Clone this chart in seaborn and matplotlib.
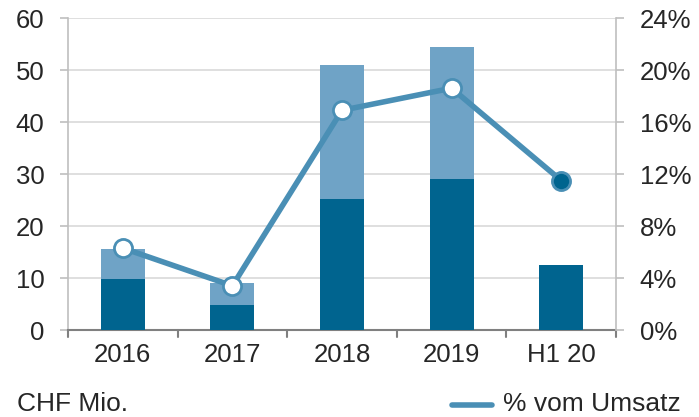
import numpy as np
import pandas as pd
import matplotlib
matplotlib.use("Agg")
import matplotlib.pyplot as plt
import seaborn as sns
from matplotlib.ticker import FuncFormatter

# data
categories = ["2016", "2017", "2018", "2019", "H1 20"]
base_values = [9.8, 4.8, 25.2, 29.0, 12.5]
top_values = [5.7, 4.2, 25.8, 25.5, 0.0]
pct_values = [6.3, 3.4, 16.9, 18.6, 11.5]

dark = "#00648F"
light = "#6FA3C6"
line_col = "#4A8FB5"
fs = 18.5

sns.set_style("white")
plt.rcParams["font.family"] = ["Liberation Sans", "DejaVu Sans"]

df = pd.DataFrame({"cat": categories, "base": base_values,
                   "total": np.array(base_values) + np.array(top_values)})

fig = plt.figure(figsize=(6.99, 4.17), dpi=100)
ax = fig.add_axes([68 / 699, 87 / 417, 548 / 699, 312 / 417])

sns.barplot(data=df, x="cat", y="total", color=light, width=0.4,
            saturation=1, linewidth=0, ax=ax, zorder=2)
sns.barplot(data=df, x="cat", y="base", color=dark, width=0.4,
            saturation=1, linewidth=0, ax=ax, zorder=3)

ax.set_xlim(-0.5, 4.5)
ax.set_ylim(0, 60)
ax.set_yticks(range(0, 61, 10))
ax.yaxis.grid(True, color="#d9d9d9", lw=1.2, zorder=0)
ax.set_axisbelow(True)
ax.set_xlabel("")
ax.set_ylabel("")
ax.tick_params(axis="y", labelsize=fs, length=6, color="#bfbfbf", width=1.2, pad=11)
ax.tick_params(axis="x", labelsize=fs, length=0, pad=9)
for s in ["top", "right"]:
    ax.spines[s].set_visible(False)
ax.spines["left"].set_color("#bfbfbf")
ax.spines["left"].set_linewidth(1.2)
ax.spines["bottom"].set_color("#808080")
ax.spines["bottom"].set_linewidth(1.5)
# separators under the x axis
for b in np.arange(-0.5, 4.6, 1.0):
    ax.plot([b, b], [0, -1.4], color="#808080", lw=1.5, clip_on=False)

ax2 = ax.twinx()
x = np.arange(len(categories))
ax2.plot(x, pct_values, color=line_col, lw=4, zorder=4, solid_capstyle="round")
ax2.scatter(x[:-1], pct_values[:-1], s=170, facecolor="white",
            edgecolor=line_col, linewidth=2, zorder=5)
ax2.scatter(x[-1:], pct_values[-1:], s=170, facecolor=dark,
            edgecolor=line_col, linewidth=2, zorder=5)
ax2.set_ylim(0, 24)
ax2.set_yticks(range(0, 25, 4))
ax2.yaxis.set_major_formatter(FuncFormatter(lambda v, p: f"{v:.0f}%"))
ax2.tick_params(axis="y", labelsize=fs, length=6, color="#bfbfbf", width=1.2, pad=11)
for s in ["top", "left", "bottom"]:
    ax2.spines[s].set_visible(False)
ax2.spines["right"].set_color("#bfbfbf")
ax2.spines["right"].set_linewidth(1.2)

fig.text(17 / 699, 1 - 404 / 417, "CHF Mio.", fontsize=19, va="center", ha="left")
fig.add_artist(plt.Line2D([452 / 699, 492 / 699], [1 - 405 / 417] * 2,
                          color=line_col, lw=4, transform=fig.transFigure))
fig.text(503 / 699, 1 - 404 / 417, "% vom Umsatz", fontsize=19, va="center", ha="left")

fig.savefig("out.png", dpi=100)
